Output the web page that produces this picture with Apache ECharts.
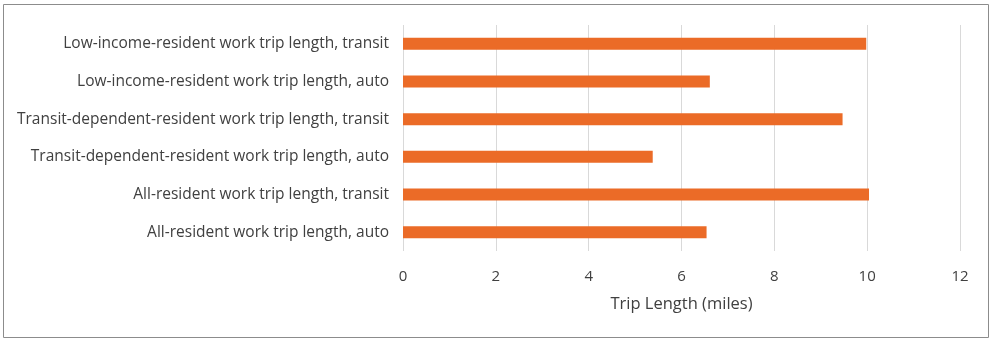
<!DOCTYPE html>
<html><head><meta charset="utf-8">
<script src="https://cdn.jsdelivr.net/npm/echarts@6/dist/echarts.min.js"></script>
<style>html,body{margin:0;padding:0;background:#fff}#c{width:990px;height:339px}</style>
</head><body><div id="c"></div>
<script>
const categories = [
  "All-resident work trip length, auto",
  "All-resident work trip length, transit",
  "Transit-dependent-resident work trip length, auto",
  "Transit-dependent-resident work trip length, transit",
  "Low-income-resident work trip length, auto",
  "Low-income-resident work trip length, transit"
];
const tripLength = [6.54, 10.04, 5.38, 9.47, 6.61, 9.98];
const xTicks = [0, 2, 4, 6, 8, 10, 12];

const chart = echarts.init(document.getElementById('c'));
const font = '"Open Sans", "Noto Sans", sans-serif';
chart.setOption({
  animation: false,
  graphic: [{type:'rect', shape:{x:3.5,y:4.5,width:985,height:333}, style:{fill:'none', stroke:'#8c8c8c', lineWidth:1}}],
  grid: {left: 403, right: 30, top: 25, bottom: 88, containLabel: false},
  xAxis: {
    type: 'value', min: xTicks[0], max: xTicks[xTicks.length-1], interval: 2,
    name: 'Trip Length (miles)', nameLocation: 'middle', nameGap: 45,
    nameTextStyle: {fontFamily: font, fontSize: 16.5, color: '#404040'},
    axisLine: {show: false}, axisTick: {show: false},
    axisLabel: {fontFamily: font, fontSize: 15, color: '#404040', margin: 18},
    splitLine: {show: true, lineStyle: {color: '#d9d9d9', width: 1}}
  },
  yAxis: {
    type: 'category', data: categories,
    axisLine: {show: false}, axisTick: {show: false},
    axisLabel: {fontFamily: font, fontSize: 15.5, color: '#404040', margin: 14}
  },
  series: [{
    type: 'bar', data: tripLength, barWidth: 12,
    itemStyle: {color: '#EB6B27'}
  }]
});
</script></body></html>
